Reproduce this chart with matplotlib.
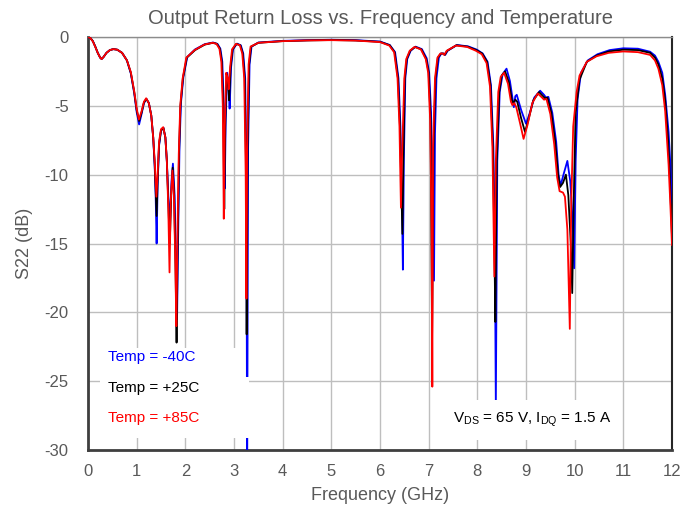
import matplotlib
matplotlib.use("Agg")
import matplotlib.pyplot as plt
from matplotlib.patches import Rectangle

plt.rcParams['font.family'] = ['Liberation Sans', 'DejaVu Sans']
plt.rcParams['mathtext.fontset'] = 'custom'
plt.rcParams['mathtext.rm'] = 'Liberation Sans'
plt.rcParams['mathtext.it'] = 'Liberation Sans:italic'
plt.rcParams['axes.unicode_minus'] = False

title = "Output Return Loss vs. Frequency and Temperature"
xlabel = "Frequency (GHz)"
ylabel = "S22 (dB)"
x_ticks = list(range(0, 13))
y_ticks = [0, -5, -10, -15, -20, -25, -30]
legend_labels = ["Temp = -40C", "Temp = +25C", "Temp = +85C"]
series_colors = ["#0000FF", "#000000", "#FF0000"]
note = r"V$_{\mathrm{DS}}$ = 65 V, I$_{\mathrm{DQ}}$ = 1.5 A"

# (GHz, dB) points per temperature
temp_m40 = [(0.00, 0.0), (0.05, -0.08), (0.10, -0.3), (0.15, -0.7), (0.20, -1.15), (0.25, -1.5), (0.28, -1.6),
            (0.32, -1.45), (0.38, -1.15), (0.45, -0.95), (0.52, -0.88), (0.60, -0.92), (0.70, -1.15), (0.80, -1.7),
            (0.88, -2.65), (0.95, -4.1), (1.00, -5.45), (1.05, -6.35), (1.10, -5.6), (1.15, -4.8), (1.20, -4.5),
            (1.25, -4.8), (1.30, -5.7), (1.34, -7.3), (1.37, -9.4), (1.39, -11.5), (1.41, -15.0), (1.43, -10.8),
            (1.46, -7.9), (1.50, -6.8), (1.55, -6.6), (1.59, -7.3), (1.62, -9.0), (1.65, -11.5), (1.685, -13.5),
            (1.715, -10.5), (1.745, -9.2), (1.78, -11.5), (1.81, -16.5), (1.83, -20.5), (1.85, -15.0), (1.88, -8.0),
            (1.91, -4.8), (1.96, -2.9), (2.04, -1.45), (2.20, -0.9), (2.40, -0.52), (2.57, -0.4), (2.66, -0.5),
            (2.72, -0.85), (2.76, -1.8), (2.79, -5.0), (2.81, -11.0), (2.83, -6.0), (2.86, -2.6), (2.89, -3.5),
            (2.91, -5.2), (2.94, -2.2), (2.98, -0.9), (3.06, -0.48), (3.14, -0.6), (3.19, -1.2), (3.23, -3.0),
            (3.255, -10.0), (3.27, -33.0), (3.29, -8.0), (3.32, -2.0), (3.36, -0.7), (3.50, -0.4), (4.00, -0.28),
            (4.50, -0.23), (5.00, -0.2), (5.50, -0.23), (6.00, -0.33), (6.20, -0.58), (6.31, -1.1), (6.38, -3.0),
            (6.42, -6.5), (6.45, -11.5), (6.47, -16.9), (6.49, -9.0), (6.52, -3.0), (6.56, -1.6), (6.63, -1.0),
            (6.73, -0.7), (6.86, -0.88), (6.96, -1.55), (7.01, -2.6), (7.05, -5.5), (7.08, -12.0), (7.11, -17.7),
            (7.13, -7.0), (7.16, -3.0), (7.21, -1.5), (7.26, -1.2), (7.31, -1.2), (7.34, -1.3), (7.39, -1.0),
            (7.58, -0.58), (7.81, -0.68), (7.99, -0.92), (8.11, -1.2), (8.21, -1.8), (8.28, -3.5), (8.33, -8.0),
            (8.36, -15.0), (8.38, -26.9), (8.41, -9.0), (8.46, -4.0), (8.52, -2.7), (8.60, -2.3), (8.67, -3.2),
            (8.72, -4.4), (8.75, -5.1), (8.78, -4.3), (8.81, -4.2), (8.90, -5.3), (9.00, -6.3), (9.07, -5.6),
            (9.17, -4.4), (9.29, -3.9), (9.37, -4.2), (9.41, -4.4), (9.46, -4.35), (9.54, -5.5), (9.62, -7.6),
            (9.67, -10.0), (9.71, -10.8), (9.77, -10.0), (9.85, -9.0), (9.91, -10.5), (9.96, -13.5), (9.99, -16.8),
            (10.02, -9.0), (10.06, -4.5), (10.13, -2.6), (10.27, -1.7), (10.47, -1.25), (10.72, -0.95), (11.00, -0.82),
            (11.30, -0.85), (11.55, -1.07), (11.65, -1.35), (11.72, -1.8), (11.80, -2.6), (11.86, -4.2), (11.93, -6.9),
            (11.97, -9.5), (12.00, -12.1)]

temp_25 = [(0.00, 0.0), (0.05, -0.08), (0.10, -0.3), (0.15, -0.7), (0.20, -1.15), (0.25, -1.5), (0.28, -1.6),
           (0.32, -1.45), (0.38, -1.15), (0.45, -0.95), (0.52, -0.88), (0.60, -0.92), (0.70, -1.15), (0.80, -1.7),
           (0.88, -2.6), (0.95, -4.0), (1.00, -5.3), (1.05, -6.1), (1.10, -5.5), (1.15, -4.75), (1.20, -4.5),
           (1.25, -4.8), (1.30, -5.7), (1.34, -7.3), (1.37, -9.2), (1.39, -11.0), (1.41, -13.0), (1.43, -10.5),
           (1.46, -7.8), (1.50, -6.8), (1.55, -6.6), (1.59, -7.3), (1.62, -9.0), (1.65, -12.0), (1.68, -15.0),
           (1.71, -11.5), (1.74, -9.5), (1.77, -11.5), (1.80, -17.0), (1.82, -22.2), (1.84, -16.0), (1.87, -8.5),
           (1.90, -5.0), (1.95, -3.0), (2.03, -1.5), (2.20, -0.95), (2.40, -0.55), (2.57, -0.42), (2.65, -0.5),
           (2.71, -0.85), (2.75, -1.8), (2.78, -5.0), (2.80, -12.5), (2.82, -6.5), (2.85, -2.7), (2.88, -3.3),
           (2.90, -4.6), (2.93, -2.2), (2.97, -0.9), (3.05, -0.5), (3.13, -0.6), (3.18, -1.2), (3.22, -3.0),
           (3.25, -10.0), (3.26, -21.6), (3.28, -8.0), (3.31, -2.0), (3.35, -0.7), (3.50, -0.42), (4.00, -0.3),
           (4.50, -0.25), (5.00, -0.22), (5.50, -0.25), (6.00, -0.35), (6.20, -0.6), (6.30, -1.1), (6.37, -3.0),
           (6.41, -6.5), (6.44, -11.0), (6.46, -14.3), (6.48, -9.0), (6.51, -3.0), (6.55, -1.6), (6.62, -1.0),
           (6.72, -0.72), (6.85, -0.9), (6.95, -1.6), (7.00, -2.6), (7.04, -6.0), (7.07, -21.8), (7.10, -8.0),
           (7.14, -3.0), (7.19, -1.5), (7.25, -1.2), (7.30, -1.2), (7.33, -1.3), (7.38, -1.0), (7.57, -0.6),
           (7.80, -0.7), (7.98, -0.95), (8.10, -1.2), (8.20, -1.8), (8.27, -3.5), (8.32, -8.0), (8.35, -15.0),
           (8.37, -20.7), (8.40, -9.0), (8.45, -4.0), (8.50, -2.8), (8.57, -2.5), (8.65, -3.3), (8.71, -4.6),
           (8.74, -4.8), (8.78, -4.55), (8.82, -4.7), (8.90, -5.9), (8.98, -6.9), (9.05, -6.0), (9.15, -4.6),
           (9.27, -4.0), (9.35, -4.3), (9.39, -4.45), (9.44, -4.4), (9.52, -5.5), (9.60, -7.6), (9.66, -10.0),
           (9.70, -10.9), (9.76, -10.6), (9.82, -10.0), (9.87, -11.5), (9.92, -15.0), (9.95, -18.6), (9.98, -12.0),
           (10.02, -5.5), (10.10, -3.1), (10.25, -1.8), (10.45, -1.35), (10.70, -1.05), (11.00, -0.92), (11.30, -0.95),
           (11.55, -1.15), (11.65, -1.5), (11.72, -2.0), (11.80, -3.0), (11.86, -4.6), (11.92, -7.5), (11.96, -10.5),
           (12.00, -14.5)]

temp_85 = [(0.00, 0.0), (0.05, -0.08), (0.10, -0.32), (0.15, -0.72), (0.20, -1.15), (0.25, -1.5), (0.28, -1.6),
           (0.32, -1.45), (0.38, -1.15), (0.45, -0.95), (0.52, -0.88), (0.60, -0.92), (0.70, -1.15), (0.80, -1.7),
           (0.88, -2.55), (0.95, -3.95), (1.00, -5.2), (1.045, -6.0), (1.10, -5.4), (1.15, -4.7), (1.195, -4.45),
           (1.25, -4.8), (1.30, -5.7), (1.34, -7.3), (1.37, -9.0), (1.39, -10.5), (1.405, -11.6), (1.43, -10.0),
           (1.46, -7.6), (1.50, -6.7), (1.545, -6.55), (1.59, -7.3), (1.62, -9.0), (1.65, -12.5), (1.675, -17.1),
           (1.70, -12.0), (1.735, -9.7), (1.765, -11.5), (1.795, -16.5), (1.815, -21.0), (1.835, -15.0),
           (1.865, -8.5), (1.895, -5.0), (1.945, -3.0), (2.02, -1.5), (2.19, -0.95), (2.39, -0.55), (2.56, -0.42),
           (2.64, -0.5), (2.70, -0.85), (2.74, -1.8), (2.77, -5.0), (2.79, -13.2), (2.81, -6.5), (2.84, -2.6),
           (2.87, -3.0), (2.89, -3.8), (2.92, -2.2), (2.96, -0.9), (3.04, -0.5), (3.12, -0.6), (3.17, -1.2),
           (3.21, -3.0), (3.24, -10.0), (3.255, -19.0), (3.27, -8.0), (3.30, -2.0), (3.34, -0.7), (3.50, -0.42),
           (4.00, -0.3), (4.50, -0.25), (5.00, -0.23), (5.50, -0.26), (6.00, -0.37), (6.19, -0.62), (6.29, -1.1),
           (6.36, -3.0), (6.40, -6.5), (6.43, -12.4), (6.45, -9.0), (6.50, -3.0), (6.54, -1.6), (6.61, -1.0),
           (6.71, -0.72), (6.84, -0.9), (6.94, -1.6), (6.99, -2.6), (7.03, -6.0), (7.06, -14.0), (7.075, -25.4),
           (7.09, -8.0), (7.13, -3.0), (7.18, -1.5), (7.24, -1.2), (7.29, -1.2), (7.32, -1.3), (7.37, -1.0),
           (7.56, -0.62), (7.79, -0.72), (7.97, -1.0), (8.09, -1.25), (8.19, -1.9), (8.26, -3.6), (8.31, -8.0),
           (8.35, -17.4), (8.38, -9.0), (8.43, -4.0), (8.48, -2.9), (8.55, -2.6), (8.63, -3.4), (8.69, -4.7),
           (8.72, -4.95), (8.76, -4.8), (8.80, -5.1), (8.88, -6.3), (8.95, -7.4), (9.03, -6.4), (9.13, -4.8),
           (9.24, -4.1), (9.33, -4.4), (9.37, -4.55), (9.42, -4.5), (9.50, -5.6), (9.58, -7.8), (9.64, -10.2),
           (9.69, -11.2), (9.76, -11.3), (9.80, -11.6), (9.85, -14.0), (9.90, -21.2), (9.93, -12.0), (9.97, -6.5),
           (10.04, -4.0), (10.10, -2.8), (10.25, -1.8), (10.45, -1.4), (10.70, -1.15), (11.00, -1.05), (11.30, -1.1),
           (11.55, -1.3), (11.65, -1.7), (11.72, -2.3), (11.80, -3.5), (11.86, -5.4), (11.93, -9.3), (11.97, -12.5),
           (12.00, -15.1)]

series = [temp_m40, temp_25, temp_85]

fig = plt.figure(figsize=(6.97, 5.08), dpi=100)
ax = fig.add_axes([88 / 697, 58 / 508, 584 / 697, 413 / 508])

for pts, color, label in zip(series, series_colors, legend_labels):
    fx = [p[0] for p in pts]
    fy = [p[1] for p in pts]
    ax.plot(fx, fy, color=color, lw=1.3, label=label, solid_joinstyle='round', zorder=3)

ax.set_xlim(0, 12)
ax.set_ylim(-30, 0)
ax.set_xticks(x_ticks)
ax.set_yticks(y_ticks)
ax.grid(True, color='#BEBEBE', lw=1.0, zorder=0)
ax.set_axisbelow(True)
ax.tick_params(length=0, labelsize=12, labelcolor='#595959')
ax.tick_params(axis='y', pad=14)
ax.tick_params(axis='x', pad=10)

for side in ['left', 'bottom']:
    ax.spines[side].set_color('#3F3F3F')
    ax.spines[side].set_linewidth(2.0)
ax.spines['right'].set_color('#262626')
ax.spines['right'].set_linewidth(1.5)
ax.spines['top'].set_color('#8C8C8C')
ax.spines['top'].set_linewidth(1.0)

ax.set_title(title, fontsize=14.5, color='#595959', pad=9)
ax.set_xlabel(xlabel, fontsize=13, color='#595959', labelpad=6)
ax.set_ylabel(ylabel, fontsize=13, color='#595959', labelpad=8)

# white label boxes (pixel layout converted to axes fraction)
def ax_frac(px, py):
    return ((px - 88) / 584, (450 - py) / 413)

x0, y0 = ax_frac(100, 377)
x1, y1 = ax_frac(242, 348)
ax.add_patch(Rectangle((x0, y0), x1 - x0, y1 - y0, transform=ax.transAxes,
                       facecolor='white', edgecolor='none', zorder=5))
x0, y0 = ax_frac(100, 438)
x1, y1 = ax_frac(249, 377)
ax.add_patch(Rectangle((x0, y0), x1 - x0, y1 - y0, transform=ax.transAxes,
                       facecolor='white', edgecolor='none', zorder=5))

for label, color, py in zip(legend_labels, series_colors, [357, 388, 418]):
    tx, ty = ax_frac(108, py)
    ax.text(tx, ty, label, transform=ax.transAxes, color=color, fontsize=11,
            ha='left', va='center', zorder=6)

nx, ny = ax_frac(532, 420)
ax.text(nx, ny, note, transform=ax.transAxes, color='black', fontsize=11,
        ha='center', va='center', zorder=6,
        bbox=dict(facecolor='white', edgecolor='none', pad=8))

fig.savefig("out.png", dpi=100)
